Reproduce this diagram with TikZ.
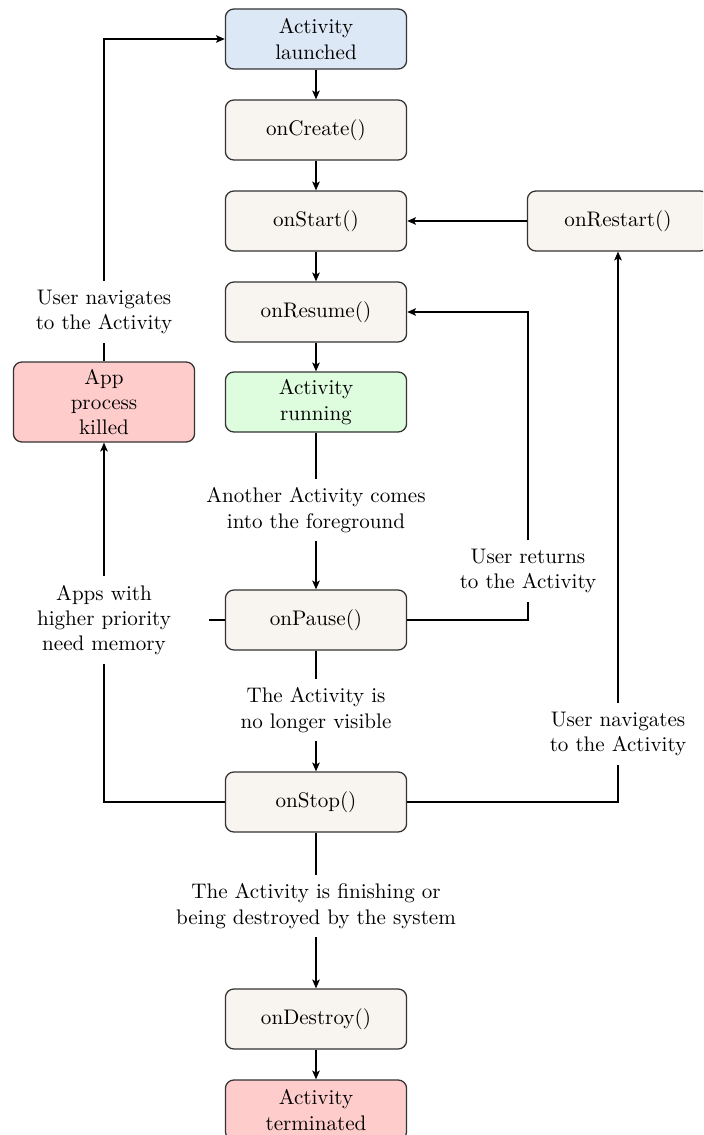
\documentclass[tikz,border=0pt]{standalone}
\usetikzlibrary{arrows.meta}
\definecolor{launchblue}{RGB}{220,232,245}
\definecolor{stepbeige}{RGB}{248,244,240}
\definecolor{runGreen}{RGB}{222,252,222}
\definecolor{deadred}{RGB}{255,204,204}
\tikzset{
  box/.style={draw=black!80, rounded corners=4pt, fill=stepbeige,
    minimum width=3.02cm, minimum height=1cm, align=center, semithick},
  note/.style={align=center, inner sep=4pt},
  link/.style={semithick},
  arr/.style={semithick, -{Stealth[length=4.2pt,width=3.6pt,inset=1pt]}}
}
\begin{document}
\begin{tikzpicture}[x=0.16667mm, y=-0.16667mm]
  \clip (0,0) rectangle (703,1135);

  % main lifecycle column
  \node[box, fill=launchblue] (launched) at (316,39) {Activity\\launched};
  \node[box] (create) at (316,130) {onCreate()};
  \node[box] (start) at (316,221) {onStart()};
  \node[box] (resume) at (316,312) {onResume()};
  \node[box, fill=runGreen] (running) at (316,402) {Activity\\running};
  \node[box] (pause) at (316,620) {onPause()};
  \node[box] (stop) at (316,802) {onStop()};
  \node[box] (destroy) at (316,1019) {onDestroy()};
  \node[box, fill=deadred] (terminated) at (316,1110) {Activity\\terminated};

  % side states
  \node[box, fill=deadred] (killed) at (104,402) {App\\process\\killed};
  \node[box] (restart) at (618,221) {onRestart()};

  % transition notes
  \node[note] (nav1) at (104,312) {User navigates\\to the Activity};
  \node[note] (another) at (316,510) {Another Activity comes\\into the foreground};
  \node[note] (returns) at (528,571) {User returns\\to the Activity};
  \node[note] (apps) at (104,620) {Apps with\\higher priority\\need memory};
  \node[note] (notvis) at (316,710) {The Activity is\\no longer visible};
  \node[note] (nav2) at (618,734) {User navigates\\to the Activity};
  \node[note] (finish) at (316,906) {The Activity is finishing or\\being destroyed by the system};
  \coordinate (stub) at (209,620);

  % straight flow
  \draw[arr] (launched) -- (create);
  \draw[arr] (create) -- (start);
  \draw[arr] (start) -- (resume);
  \draw[arr] (resume) -- (running);
  \draw[link] (running) -- (another);
  \draw[arr] (another) -- (pause);
  \draw[link] (pause) -- (notvis);
  \draw[arr] (notvis) -- (stop);
  \draw[link] (stop) -- (finish);
  \draw[arr] (finish) -- (destroy);
  \draw[arr] (destroy) -- (terminated);

  % loops back
  \draw[arr] (restart) -- (start);
  \draw[link] (stop.east) -| (nav2);
  \draw[arr] (nav2) -- (restart);
  \draw[link] (pause.east) -| (returns);
  \draw[arr] (returns) |- (resume.east);
  \draw[link] (stop.west) -| (apps);
  \draw[arr] (apps) -- (killed);
  \draw[link] (pause.west) -- (stub);
  \draw[link] (killed) -- (nav1);
  \draw[arr] (nav1) |- (launched.west);
\end{tikzpicture}
\end{document}
